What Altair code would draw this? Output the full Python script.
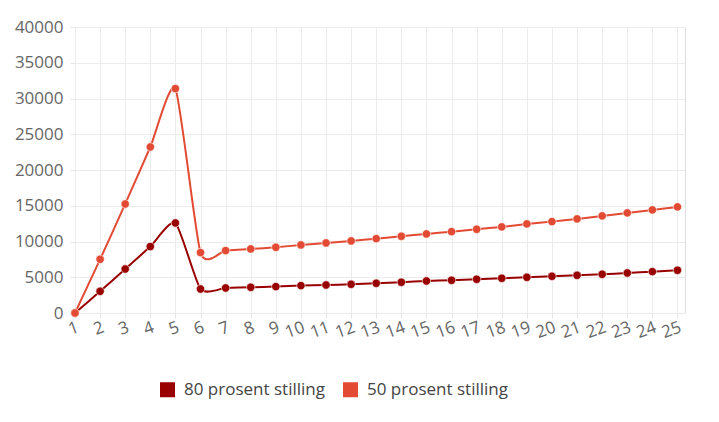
import altair as alt
import pandas as pd

years = list(range(1, 26))
series_80 = [0, 3040, 6150, 9290, 12590, 3360, 3500, 3595, 3690, 3830, 3920, 4015, 4155,
             4295, 4480, 4575, 4715, 4855, 4995, 5135, 5275, 5415, 5600, 5785, 5975]
series_50 = [0, 7510, 15250, 23220, 31390, 8450, 8730, 8960, 9190, 9520, 9800, 10080, 10400,
             10730, 11060, 11380, 11710, 12040, 12460, 12780, 13160, 13580, 14000, 14420, 14840]
names = ["80 prosent stilling", "50 prosent stilling"]
colors = ["#990000", "#E34A33"]

rows = []
for n, vals in zip(names, [series_80, series_50]):
    for x, v in zip(years, vals):
        rows.append({"year": x, "value": v, "serie": n})
df = pd.DataFrame(rows)

FONT = "Open Sans"

x = alt.X("year:Q",
          scale=alt.Scale(domain=[1, 25.3], nice=False, zero=False),
          axis=alt.Axis(values=years, title=None, labelAngle=-20, labelAlign="right",
                        labelBaseline="top", labelFontSize=17, labelColor="#666",
                        labelFont=FONT, labelPadding=1, tickSize=5, tickColor="#e6e6e6",
                        domain=False, gridColor="#ececec", labelOverlap=False, labelFlush=False))
y = alt.Y("value:Q",
          scale=alt.Scale(domain=[0, 40000], nice=False),
          axis=alt.Axis(values=list(range(0, 40001, 5000)), format="d", title=None,
                        labelFontSize=17, labelColor="#666", labelFont=FONT, labelPadding=7,
                        tickSize=5, tickColor="#e6e6e6", domain=False, gridColor="#ececec"))
color = alt.Color("serie:N",
                  scale=alt.Scale(domain=names, range=colors),
                  sort=names,
                  legend=alt.Legend(title=None, orient="none", direction="horizontal",
                                    legendX=84, legendY=354, symbolType="square",
                                    symbolSize=225, symbolStrokeWidth=0, labelFontSize=17,
                                    labelFont=FONT, labelColor="#444", labelOffset=8,
                                    columnPadding=17, symbolOpacity=1))

base = alt.Chart(df)
lines = base.mark_line(interpolate="cardinal", tension=0.4, strokeWidth=2).encode(
    x=x, y=y, color=color)
points = base.mark_point(filled=True, size=70, opacity=1, stroke="#ffffff",
                         strokeWidth=1, strokeOpacity=0.6).encode(
    x=x, y=y, fill=alt.Fill("serie:N", scale=alt.Scale(domain=names, range=colors), legend=None))

chart = (lines + points).properties(
    width=610, height=286,
    autosize=alt.AutoSizeParams(type="none"),
    padding={"left": 75, "top": 27, "right": 34, "bottom": 109},
).configure_view(stroke=None).configure(background="white")

chart.save("out.html", embed_options={"renderer": "svg", "actions": False})
